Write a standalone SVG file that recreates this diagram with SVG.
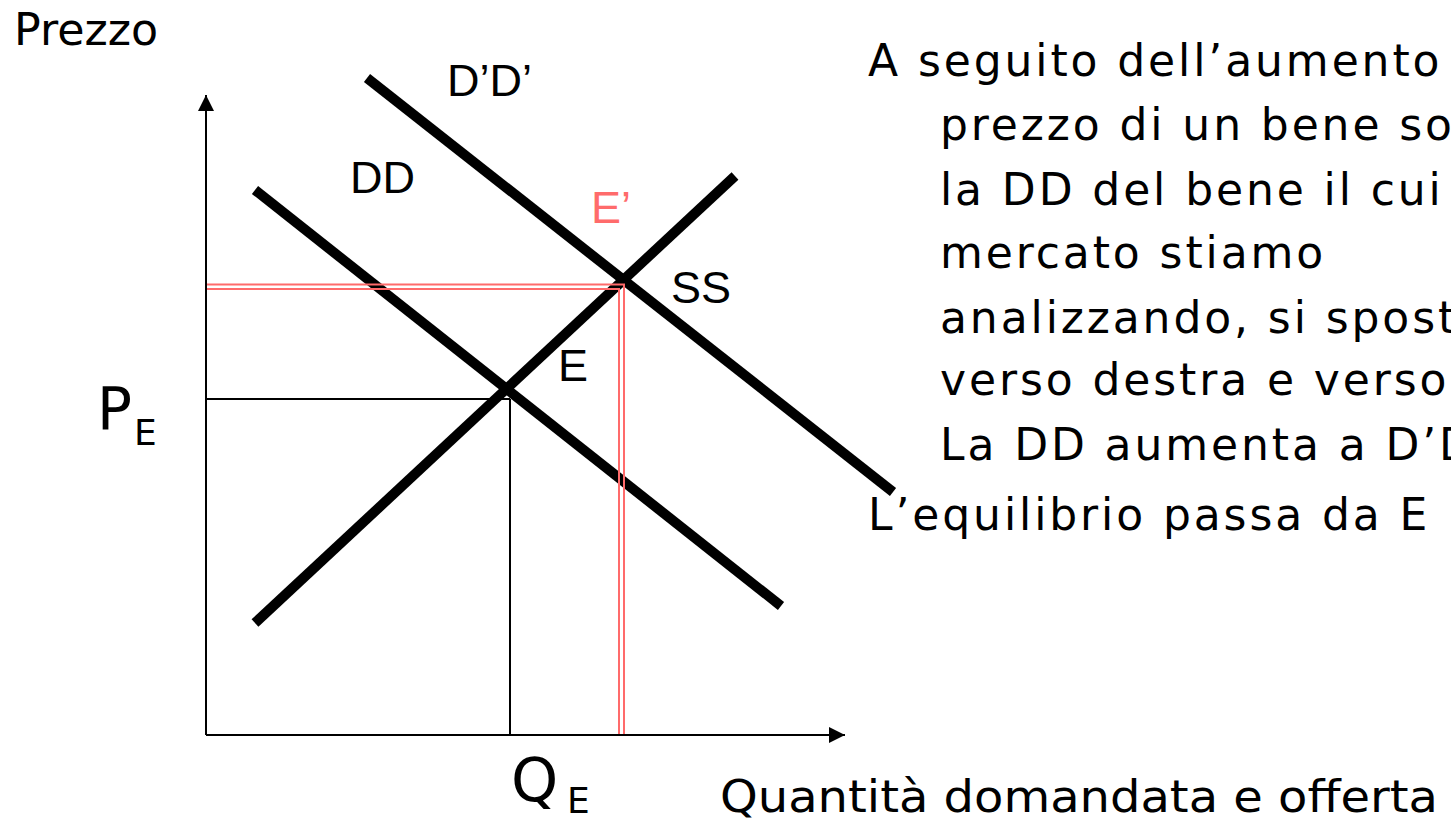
<svg xmlns="http://www.w3.org/2000/svg" width="1451" height="822" viewBox="0 0 1451 822">
<style>
.bg{fill:#ffffff}
.curve{stroke:#000;stroke-width:10;fill:none}
.axis{stroke:#000;stroke-width:2;fill:none}
.thin{stroke:#000;stroke-width:2;fill:none}
.red{stroke:#ff6b6b;stroke-width:2;fill:none}
.lbl{font-family:"Liberation Sans",Arial,sans-serif;font-size:45px;fill:#000}
.lblred{font-family:"Liberation Sans",Arial,sans-serif;font-size:45px;fill:#ff6b6b}
.gothic{font-family:"DejaVu Sans",sans-serif;fill:#000}
.body{font-family:"DejaVu Sans",sans-serif;font-size:44px;letter-spacing:2.9px;fill:#000}
</style>
<defs>
<marker id="arr" viewBox="0 0 16 16" refX="16" refY="8" markerWidth="16" markerHeight="16" markerUnits="userSpaceOnUse" orient="auto">
<path d="M0,0 L16,8 L0,16 Z" fill="#000"/>
</marker>
</defs>
<rect class="bg" x="0" y="0" width="1451" height="822"/>
<g id="axes">
<line class="axis" x1="206" y1="735" x2="206" y2="95" marker-end="url(#arr)"/>
<line class="axis" x1="206" y1="735" x2="845" y2="735" marker-end="url(#arr)"/>
</g>
<g id="connectors">
<line class="thin" x1="206" y1="399" x2="510" y2="399"/>
<line class="thin" x1="510" y1="399" x2="510" y2="735"/>
</g>
<g id="curve-DD">
<line class="curve" x1="255" y1="190" x2="781" y2="606"/>
</g>
<g id="curve-DpDp">
<line class="curve" x1="367" y1="78" x2="893" y2="492"/>
</g>
<g id="curve-SS">
<line class="curve" x1="255" y1="623" x2="735" y2="176"/>
</g>
<g id="new-equilibrium-lines">
<polyline class="red" points="207,284.5 624,284.5 624,734"/>
<polyline class="red" points="207,289 619,289 619,734"/>
</g>
<g id="labels">
<text class="lbl" x="447" y="96">D’D’</text>
<text class="lbl" x="350" y="193">DD</text>
<text class="lblred" x="591" y="223">E’</text>
<text class="lbl" x="671" y="303">SS</text>
<text class="lbl" x="558" y="381">E</text>
</g>
<g id="axis-labels">
<text class="gothic" x="14" y="45" font-size="44" textLength="144" lengthAdjust="spacingAndGlyphs">Prezzo</text>
<text class="gothic" x="97" y="429" font-size="58">P</text>
<text class="gothic" x="134" y="445" font-size="36">E</text>
<text class="gothic" x="511" y="801" font-size="60">Q</text>
<text class="gothic" x="567" y="813" font-size="36">E</text>
<text class="gothic" x="720" y="812" font-size="44" textLength="718" lengthAdjust="spacingAndGlyphs">Quantità domandata e offerta</text>
</g>
<g id="explanation">
<text class="body" x="868" y="76">A seguito dell’aumento</text>
<text class="body" x="940" y="140">prezzo di un bene sostituto</text>
<text class="body" x="940" y="205">la DD del bene il cui</text>
<text class="body" x="940" y="268">mercato stiamo</text>
<text class="body" x="940" y="333">analizzando, si sposta</text>
<text class="body" x="940" y="395">verso destra e verso</text>
<text class="body" x="940" y="460">La DD aumenta a D’D’</text>
<text class="body" x="868" y="530">L’equilibrio passa da E</text>
</g>
</svg>
